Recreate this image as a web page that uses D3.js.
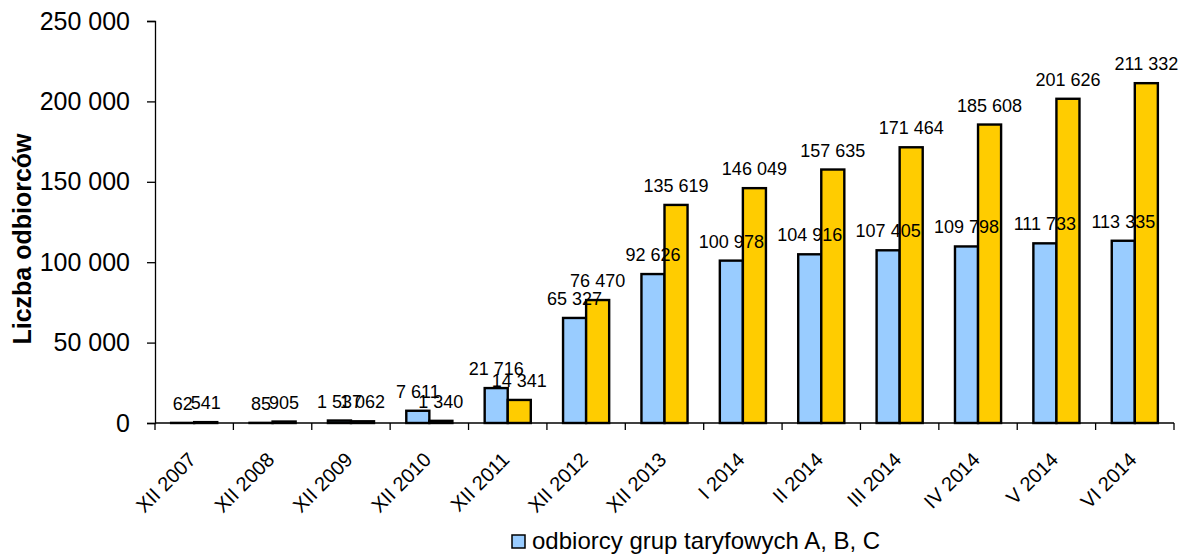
<!DOCTYPE html>
<html>
<head>
<meta charset="utf-8">
<script src="https://cdn.jsdelivr.net/npm/d3@7"></script>
<style>
  body { margin: 0; background: #fff; }
  svg { display: block; font-family: Arial, "Liberation Sans", sans-serif; }
</style>
</head>
<body>
<svg id="svg" width="1185" height="555"></svg>
<script>
// data
var categories = ['XII 2007', 'XII 2008', 'XII 2009', 'XII 2010', 'XII 2011', 'XII 2012', 'XII 2013',
    'I 2014', 'II 2014', 'III 2014', 'IV 2014', 'V 2014', 'VI 2014'];
var abcValues = [62, 85, 1537, 7611, 21716, 65327, 92626, 100978, 104916, 107405, 109798, 111733, 113335];
var gValues = [541, 905, 1062, 1340, 14341, 76470, 135619, 146049, 157635, 171464, 185608, 201626, 211332];
var yTicks = [0, 50000, 100000, 150000, 200000, 250000];
var seriesNames = ['odbiorcy grup taryfowych A, B, C'];
var colors = ['#99ccff', '#ffcc00'];

var plotLeft = 155, plotRight = 1174, plotTop = 21, plotBottom = 423;

var svg = d3.select('svg');

var locale = d3.formatLocale({decimal: ',', thousands: ' ', grouping: [3], currency: ['', '']});
var fmt = locale.format(',d');

var x = d3.scaleBand()
    .domain(categories)
    .range([plotLeft, plotRight])
    .padding(0);

var x1 = d3.scaleBand()
    .domain([0, 1])
    .range([0, x.bandwidth()])
    .paddingInner(0)
    .paddingOuter(0.7);

var y = d3.scaleLinear()
    .domain([0, 250000])
    .range([plotBottom, plotTop]);

// y axis
var yAxis = svg.append('g')
    .attr('transform', 'translate(' + plotLeft + ',0)')
    .call(d3.axisLeft(y).tickValues(yTicks).tickFormat(fmt).tickSize(8).tickPadding(17));
yAxis.select('.domain').attr('stroke', '#000').attr('stroke-width', 1.3);
yAxis.selectAll('.tick line').attr('stroke', '#000').attr('stroke-width', 1.3);
yAxis.selectAll('.tick text')
    .attr('font-size', 25)
    .attr('fill', '#000')
    .attr('font-family', 'Arial, "Liberation Sans", sans-serif');

svg.append('text')
    .attr('transform', 'translate(31,239) rotate(-90)')
    .attr('text-anchor', 'middle')
    .attr('font-size', 25)
    .attr('font-weight', 'bold')
    .text('Liczba odbiorców');

// bars
var rows = categories.map(function(c, i){ return {cat: c, vals: [abcValues[i], gValues[i]]}; });

var groups = svg.selectAll('g.grp')
    .data(rows)
    .enter()
    .append('g')
    .attr('class', 'grp')
    .attr('transform', function(d){ return 'translate(' + x(d.cat) + ',0)'; });

groups.selectAll('rect')
    .data(function(d){ return d.vals; })
    .enter()
    .append('rect')
    .attr('x', function(d, i){ return x1(i); })
    .attr('y', function(d){ return y(d); })
    .attr('width', x1.bandwidth())
    .attr('height', function(d){ return plotBottom - y(d); })
    .attr('fill', function(d, i){ return colors[i]; })
    .attr('stroke', '#000')
    .attr('stroke-width', 2.4);

groups.selectAll('text')
    .data(function(d){ return d.vals; })
    .enter()
    .append('text')
    .attr('x', function(d, i){ return x1(i) + x1.bandwidth() / 2; })
    .attr('y', function(d){ return y(d) - 13; })
    .attr('text-anchor', 'middle')
    .attr('font-size', 18)
    .attr('fill', '#000')
    .text(function(d){ return fmt(d); });

// x axis
svg.append('line')
    .attr('x1', plotLeft).attr('x2', plotRight)
    .attr('y1', plotBottom).attr('y2', plotBottom)
    .attr('stroke', '#000').attr('stroke-width', 1.3);

svg.selectAll('line.xtick')
    .data(categories.concat(['end']))
    .enter()
    .append('line')
    .attr('class', 'xtick')
    .attr('x1', function(d, i){ return plotLeft + i * x.step(); })
    .attr('x2', function(d, i){ return plotLeft + i * x.step(); })
    .attr('y1', plotBottom).attr('y2', plotBottom + 7)
    .attr('stroke', '#000').attr('stroke-width', 1.3);

svg.selectAll('text.xlab')
    .data(categories)
    .enter()
    .append('text')
    .attr('class', 'xlab')
    .attr('transform', function(d){ return 'translate(' + (x(d) + x.bandwidth() / 2 + 3) + ',' + (plotBottom + 38) + ') rotate(-45)'; })
    .attr('text-anchor', 'end')
    .attr('font-size', 20)
    .attr('fill', '#000')
    .text(function(d){ return d; });

// legend
var legend = svg.append('g').attr('transform', 'translate(512,535)');
legend.append('rect')
    .attr('width', 13).attr('height', 13)
    .attr('fill', colors[0])
    .attr('stroke', '#000').attr('stroke-width', 1.5);
legend.append('text')
    .attr('x', 20).attr('y', 14)
    .attr('font-size', 24)
    .attr('fill', '#000')
    .text(seriesNames[0]);
</script>
</body>
</html>
